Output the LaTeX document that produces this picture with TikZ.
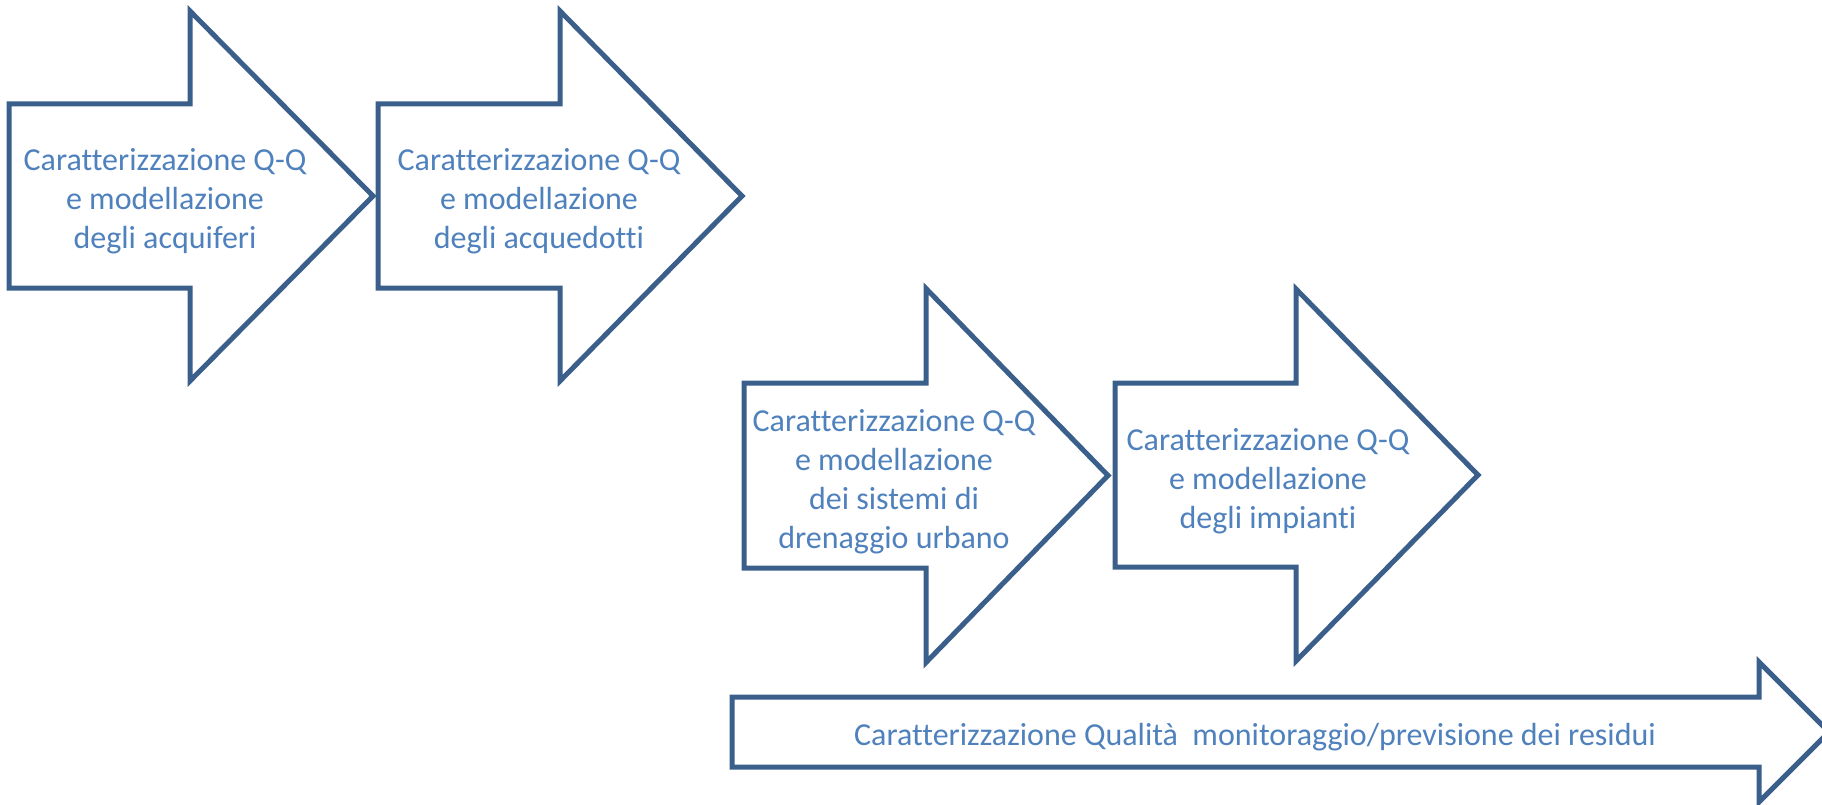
\documentclass[tikz,border=0pt]{standalone}
\usepackage{fontspec}
\setmainfont[Ligatures=NoCommon]{Carlito}
\definecolor{linecol}{HTML}{3A5F8B}
\definecolor{textcol}{HTML}{4F81BD}
\tikzset{
  arrowshape/.style={draw=linecol, line width=5pt, line join=miter, fill=white},
  lbl/.style={text=textcol, align=center, font=\fontsize{32}{39}\selectfont, inner sep=0pt}
}
% #1 left, #2 center y, #3 body half, #4 head x, #5 head half, #6 tip x
\newcommand\myarrow[6]{%
  \draw[arrowshape] (#1,#2-#3) -- (#4,#2-#3) -- (#4,#2-#5) -- (#6,#2) -- (#4,#2+#5) -- (#4,#2+#3) -- (#1,#2+#3) -- cycle;}
\begin{document}
\begin{tikzpicture}[x=1pt,y=-1pt]
\useasboundingbox (0,0) rectangle (1822,805);
\myarrow{9}{196}{92}{190}{185}{373}
\myarrow{378}{196}{92}{560}{185}{742}
\myarrow{744}{475.5}{92.5}{926}{187}{1108}
\myarrow{1115}{475}{92}{1296}{186}{1478}
\myarrow{732}{732}{35}{1759}{70}{1829}
\node[lbl] (t1) at (165,201) {Caratterizzazione Q-Q\\e modellazione\\degli acquiferi};
\node[lbl] (t2) at (539,201) {Caratterizzazione Q-Q\\e modellazione\\degli acquedotti};
\node[lbl] (t3) at (894,482) {Caratterizzazione Q-Q\\e modellazione\\dei sistemi di\\drenaggio urbano};
\node[lbl] (t4) at (1268,481) {Caratterizzazione Q-Q\\e modellazione\\degli impianti};
\node[lbl] (t5) at (1255,737) {Caratterizzazione Qualità\ \ monitoraggio/previsione dei residui};
\end{tikzpicture}
\end{document}
